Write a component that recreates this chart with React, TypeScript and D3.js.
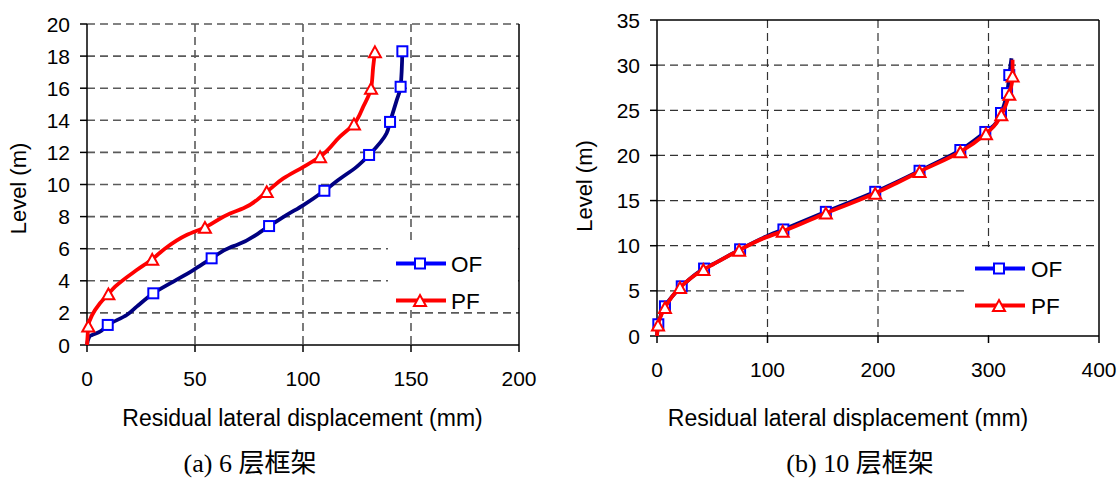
import React from 'react';
import * as d3 from 'd3';

// ---------- Data: (a) 6-storey frame ----------
const of6Disp = [0, 1.1, 6, 9.6, 18.4, 23, 30.7, 40, 49.2, 57.7, 66.2, 69.3, 84.3, 92.5, 100.2, 109.9, 116.3, 124.8, 130.6, 138.7, 140.3, 143.4, 145.2, 146];
const of6Level = [0, 0.52, 0.83, 1.25, 1.87, 2.39, 3.22, 3.95, 4.67, 5.4, 6.08, 6.23, 7.41, 8.1, 8.72, 9.61, 10.28, 11.1, 11.84, 13.19, 13.9, 15.26, 16.09, 18.3];
const of6MarkDisp = [9.6, 30.7, 57.7, 84.3, 109.9, 130.6, 140.3, 145.2, 146];
const of6MarkLevel = [1.25, 3.22, 5.4, 7.41, 9.61, 11.84, 13.9, 16.09, 18.3];

const pf6Disp = [0, 0.3, 0.6, 6, 9.9, 13, 23, 30.2, 35.3, 46.1, 54.6, 66.2, 72.4, 83.2, 90.9, 100.2, 107.9, 117.1, 123.6, 127.9, 131.5, 132.5, 133.3];
const pf6Level = [0, 0.6, 1.18, 2.6, 3.18, 3.63, 4.67, 5.34, 5.92, 6.85, 7.33, 8.2, 8.52, 9.55, 10.38, 11.1, 11.73, 12.98, 13.77, 14.85, 15.99, 17.34, 18.27];
const pf6MarkDisp = [0.6, 9.9, 30.2, 54.6, 83.2, 107.9, 123.6, 131.5, 133.3];
const pf6MarkLevel = [1.18, 3.18, 5.34, 7.33, 9.55, 11.73, 13.77, 15.99, 18.27];

// ---------- Data: (b) 10-storey frame ----------
const of10Disp = [0, 1.2, 7.2, 22.4, 42.6, 52, 75.2, 99.4, 114.4, 152.8, 197.5, 217, 237.6, 274.5, 297.1, 304.7, 311.3, 316.8, 318.8, 320.8];
const of10Level = [0, 1.3, 3.29, 5.5, 7.47, 8.05, 9.6, 11.05, 11.8, 13.75, 15.97, 17.07, 18.3, 20.6, 22.6, 23.3, 24.7, 26.9, 28.9, 30.75];
const of10MarkDisp = [1.2, 7.2, 22.4, 42.6, 75.2, 114.4, 152.8, 197.5, 237.6, 274.5, 297.1, 311.3, 316.8, 318.8];
const of10MarkLevel = [1.3, 3.29, 5.5, 7.47, 9.6, 11.8, 13.75, 15.97, 18.3, 20.6, 22.6, 24.7, 26.9, 28.9];

const pf10Disp = [0, 0.9, 7.2, 20.8, 42, 51, 74.3, 99, 113.8, 152.8, 197.5, 217, 237.6, 274.5, 297.7, 304.7, 311.6, 318.8, 321.8, 321.8];
const pf10Level = [0, 1.2, 3.15, 5.37, 7.36, 7.95, 9.5, 10.95, 11.6, 13.6, 15.8, 16.95, 18.2, 20.4, 22.4, 23.2, 24.5, 26.76, 28.8, 30.6];
const pf10MarkDisp = [0.9, 7.2, 20.8, 42, 74.3, 113.8, 152.8, 197.5, 237.6, 274.5, 297.7, 311.6, 318.8, 321.8];
const pf10MarkLevel = [1.2, 3.15, 5.37, 7.36, 9.5, 11.6, 13.6, 15.8, 18.2, 20.4, 22.4, 24.5, 26.76, 28.8];

// ---------- Axis ticks / labels ----------
const xTicks6 = [0, 50, 100, 150, 200];
const yTicks6 = [0, 2, 4, 6, 8, 10, 12, 14, 16, 18, 20];
const xTicks10 = [0, 100, 200, 300, 400];
const yTicks10 = [0, 5, 10, 15, 20, 25, 30, 35];
const seriesNames = ['OF', 'PF'];
const xLabel = 'Residual lateral displacement (mm)';
const yLabel = 'Level (m)';
const captions = ['(a) 6 层框架', '(b) 10 层框架'];

const SANS = '"Liberation Sans", Arial, sans-serif';
const SERIF = '"Liberation Serif", "Times New Roman", "Noto Sans CJK SC", serif';
const NAVY = '#000080';
const BLUE = '#0000ff';
const RED = '#ff0000';

type P = { x: number; y: number };
const zip = (xs: number[], ys: number[]): P[] => xs.map((x, i) => ({ x, y: ys[i] }));

function Square({ cx, cy, s = 10 }: { cx: number; cy: number; s?: number }) {
  return <rect x={cx - s / 2} y={cy - s / 2} width={s} height={s} fill="#fff" stroke={BLUE} strokeWidth={2} />;
}
function Tri({ cx, cy, s = 12 }: { cx: number; cy: number; s?: number }) {
  const h = s * 0.9;
  return (
    <path
      d={`M${cx},${cy - h / 2}L${cx + s / 2},${cy + h / 2}L${cx - s / 2},${cy + h / 2}Z`}
      fill="#fff"
      stroke={RED}
      strokeWidth={2}
    />
  );
}

type PanelProps = {
  x0: number; x1: number; y0: number; y1: number;
  xMax: number; yMax: number;
  xTicks: number[]; yTicks: number[];
  ofLine: P[]; ofMarks: P[]; pfLine: P[]; pfMarks: P[];
  legendBox: { x: number; y: number; w: number; h: number };
  legendX: number; legendY: number[]; legendText: number;
  xLabelX: number; yLabelX: number; yLabelY: number;
  topDashed: boolean;
  gridColor: string; gridWidth: number;
  caption: string; captionX: number;
};

function Panel(p: PanelProps) {
  const x = d3.scaleLinear().domain([0, p.xMax]).range([p.x0, p.x1]);
  const y = d3.scaleLinear().domain([0, p.yMax]).range([p.y1, p.y0]);
  const line = d3.line<P>().x(d => x(d.x)).y(d => y(d.y)).curve(d3.curveMonotoneY);
  const dash = '8,5';
  return (
    <g>
      <rect x={p.x0} y={p.y0} width={p.x1 - p.x0} height={p.y1 - p.y0} fill="#fff" />
      {p.yTicks.filter(t => t > 0 && (t < p.yMax || p.topDashed)).map(t => (
        <line key={'h' + t} x1={p.x0} x2={p.x1} y1={y(t)} y2={y(t)} stroke={p.gridColor} strokeWidth={p.gridWidth} strokeDasharray={dash} />
      ))}
      {p.xTicks.filter(t => t > 0 && t < p.xMax).map(t => (
        <line key={'v' + t} x1={x(t)} x2={x(t)} y1={p.y0} y2={p.y1} stroke={p.gridColor} strokeWidth={p.gridWidth} strokeDasharray={dash} />
      ))}
      {!p.topDashed && <line x1={p.x0} x2={p.x1} y1={p.y0} y2={p.y0} stroke="#000" strokeWidth={1.5} />}
      <line x1={p.x1} x2={p.x1} y1={p.y0} y2={p.y1} stroke="#000" strokeWidth={1.5} />
      <line x1={p.x0} x2={p.x0} y1={p.y0} y2={p.y1} stroke="#000" strokeWidth={1.5} />
      <line x1={p.x0} x2={p.x1} y1={p.y1} y2={p.y1} stroke="#000" strokeWidth={1.5} />
      {p.yTicks.map(t => (
        <g key={'yt' + t}>
          <line x1={p.x0 - 7} x2={p.x0} y1={y(t)} y2={y(t)} stroke="#000" strokeWidth={1.5} />
          <text x={p.x0 - 17} y={y(t)} dy="0.36em" textAnchor="end" fontFamily={SANS} fontSize={21}>{t}</text>
        </g>
      ))}
      {p.xTicks.map(t => (
        <g key={'xt' + t}>
          <line x1={x(t)} x2={x(t)} y1={p.y1} y2={p.y1 + 7} stroke="#000" strokeWidth={1.5} />
          <text x={x(t)} y={p.y1 + 41} textAnchor="middle" fontFamily={SANS} fontSize={21}>{t}</text>
        </g>
      ))}
      <text x={p.xLabelX} y={425.5} textAnchor="middle" fontFamily={SANS} fontSize={23}>{xLabel}</text>
      <text transform={`translate(${p.yLabelX},${p.yLabelY}) rotate(-90)`} textAnchor="middle" fontFamily={SANS} fontSize={22}>{yLabel}</text>
      <path d={line(p.ofLine) || ''} fill="none" stroke={NAVY} strokeWidth={3.8} strokeLinejoin="round" />
      {p.ofMarks.map((d, i) => <Square key={'om' + i} cx={x(d.x)} cy={y(d.y)} />)}
      <path d={line(p.pfLine) || ''} fill="none" stroke={RED} strokeWidth={3.8} strokeLinejoin="round" />
      {p.pfMarks.map((d, i) => <Tri key={'pm' + i} cx={x(d.x)} cy={y(d.y)} />)}
      <rect x={p.legendBox.x} y={p.legendBox.y} width={p.legendBox.w} height={p.legendBox.h} fill="#fff" />
      {seriesNames.map((name, i) => {
        const ly = p.legendY[i];
        return (
          <g key={name}>
            <line x1={p.legendX} x2={p.legendX + 50} y1={ly} y2={ly} stroke={i === 0 ? BLUE : RED} strokeWidth={3.8} />
            {i === 0 ? <Square cx={p.legendX + 24} cy={ly} /> : <Tri cx={p.legendX + 24} cy={ly} />}
            <text x={p.legendText} y={ly} dy="0.36em" fontFamily={SANS} fontSize={22.5}>{name}</text>
          </g>
        );
      })}
      <text x={p.captionX} y={471.5} textAnchor="middle" fontFamily={SERIF} fontSize={26}>{p.caption}</text>
    </g>
  );
}

export default function App() {
  return (
    <svg width={1120} height={479} style={{ position: 'absolute', left: 0, top: 0, background: '#fff' }}>
      <rect width={1120} height={479} fill="#fff" />
      <Panel
        x0={87} x1={519} y0={24} y1={345} xMax={200} yMax={20}
        xTicks={xTicks6} yTicks={yTicks6}
        ofLine={zip(of6Disp, of6Level)} ofMarks={zip(of6MarkDisp, of6MarkLevel)}
        pfLine={zip(pf6Disp, pf6Level)} pfMarks={zip(pf6MarkDisp, pf6MarkLevel)}
        legendBox={{ x: 388, y: 242, w: 130, h: 68 }}
        legendX={396} legendY={[263.5, 300.5]} legendText={451}
        xLabelX={302.5} yLabelX={26} yLabelY={188.5}
        topDashed={true} gridColor="#5a5a5a" gridWidth={1.6}
        caption={captions[0]} captionX={250}
      />
      <Panel
        x0={657} x1={1099} y0={20} y1={336} xMax={400} yMax={35}
        xTicks={xTicks10} yTicks={yTicks10}
        ofLine={zip(of10Disp, of10Level)} ofMarks={zip(of10MarkDisp, of10MarkLevel)}
        pfLine={zip(pf10Disp, pf10Level)} pfMarks={zip(pf10MarkDisp, pf10MarkLevel)}
        legendBox={{ x: 968, y: 247, w: 130, h: 88 }}
        legendX={975} legendY={[268.5, 305.5]} legendText={1031}
        xLabelX={848} yLabelX={591.5} yLabelY={186}
        topDashed={false} gridColor="#333" gridWidth={1.2}
        caption={captions[1]} captionX={860}
      />
    </svg>
  );
}
